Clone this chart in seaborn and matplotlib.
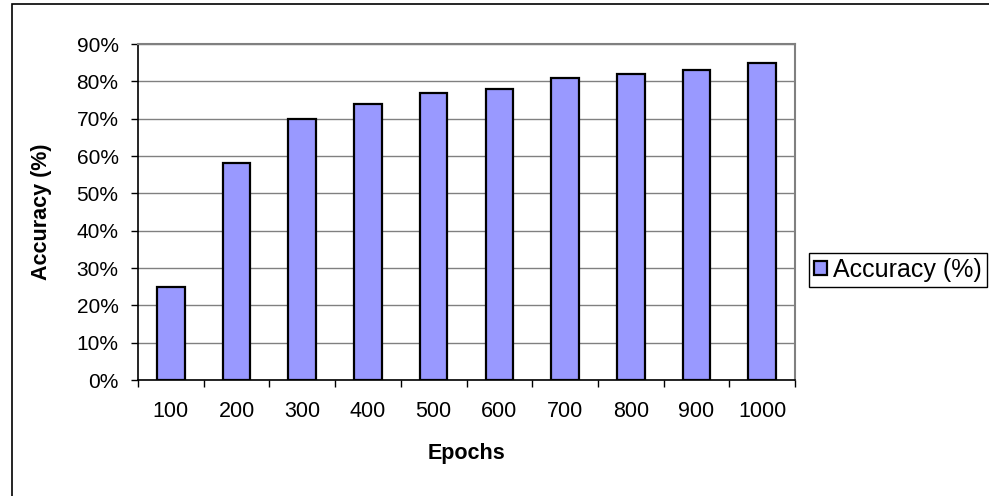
import matplotlib
matplotlib.use("Agg")
import matplotlib.pyplot as plt
from matplotlib.patches import Rectangle
import seaborn as sns
import pandas as pd

# Accuracy per training length
epochs = ["100", "200", "300", "400", "500", "600", "700", "800", "900", "1000"]
accuracy = [25, 58, 70, 74, 77, 78, 81, 82, 83, 85]
y_ticks = [0, 10, 20, 30, 40, 50, 60, 70, 80, 90]
series_name = "Accuracy (%)"

sns.set_theme(style="white")
plt.rcParams["font.family"] = ["Liberation Sans", "DejaVu Sans"]
plt.rcParams.update({"text.color": "black", "axes.labelcolor": "black",
                     "xtick.color": "black", "ytick.color": "black"})

df = pd.DataFrame({"Epochs": epochs, "Accuracy": accuracy})

fig = plt.figure(figsize=(9.89, 4.96), dpi=100)
ax = fig.add_axes([138 / 989, 1 - 380 / 496, (795 - 138) / 989, (380 - 44) / 496])

sns.barplot(data=df, x="Epochs", y="Accuracy", color="#9999FF", saturation=1,
            edgecolor="black", linewidth=1.6, width=0.42, ax=ax, zorder=3)
ax.containers[0].set_label(series_name)

ax.set_ylim(0, 90)
ax.set_xlim(-0.5, len(epochs) - 0.5)
ax.set_yticks(y_ticks)
ax.set_yticklabels([f"{v}%" for v in y_ticks])
ax.yaxis.grid(True, color="#808080", linewidth=1.0, zorder=0)
ax.set_axisbelow(True)

# category-boundary ticks on x
ax.set_xticks(range(len(epochs)))
ax.set_xticklabels(epochs)
ax.set_xticks([i - 0.5 for i in range(len(epochs) + 1)], minor=True)
ax.tick_params(axis="x", which="major", length=0, pad=15, labelsize=15.5)
ax.tick_params(axis="x", which="minor", length=5, width=1, color="black", direction="out", bottom=True)
ax.tick_params(axis="y", length=5, width=1, color="black", direction="out", left=True, pad=9, labelsize=15)

for side in ("top", "right"):
    ax.spines[side].set_color("#808080")
    ax.spines[side].set_linewidth(1.5)
for side in ("left", "bottom"):
    ax.spines[side].set_color("black")
    ax.spines[side].set_linewidth(1.2)
ax.spines["bottom"].set_zorder(4)

ax.set_xlabel("Epochs", fontsize=15.5, fontweight="bold", labelpad=15)
ax.set_ylabel("Accuracy (%)", fontsize=15.5, fontweight="bold", labelpad=18)

leg = fig.legend(handles=[ax.containers[0]], loc="center left",
                 bbox_to_anchor=(809 / 989, 1 - 270 / 496), bbox_transform=fig.transFigure,
                 fontsize=18, frameon=True, fancybox=False, framealpha=1, edgecolor="black",
                 handlelength=0.5, handleheight=0.5, handletextpad=0.25, borderpad=0.2,
                 borderaxespad=0)
leg.get_frame().set_linewidth(1.0)

# outer chart frame
fig.patches.append(Rectangle((11.5 / 989, -0.2), 1.5, 1.2 - 3.5 / 496, transform=fig.transFigure,
                             fill=False, edgecolor="black", linewidth=1.2))

fig.savefig("out.png", dpi=100)
